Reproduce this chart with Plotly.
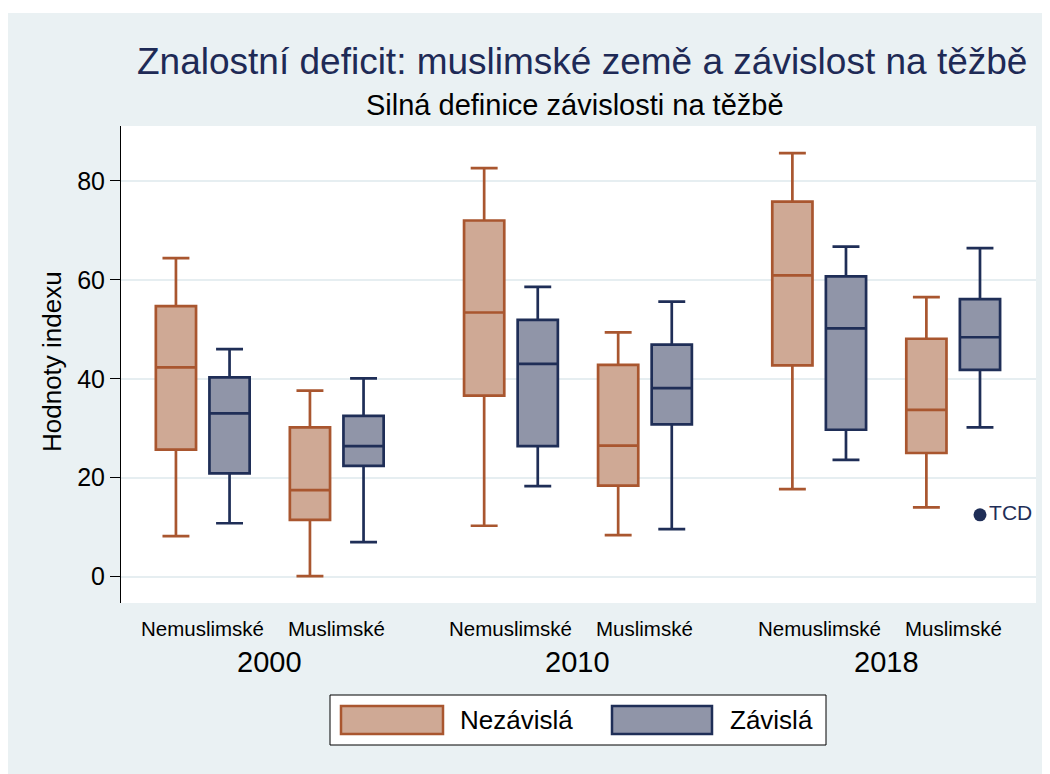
import plotly.graph_objects as go

# ---------------- data ----------------
years = ["2000", "2010", "2018"]
religion = ["Nemuslimské", "Muslimské"]
series = ["Nezávislá", "Závislá"]

# order: 2000 Nem, 2000 Mus, 2010 Nem, 2010 Mus, 2018 Nem, 2018 Mus
nez_lower = [8.2, 0.1, 10.3, 8.4, 17.7, 14.0]
nez_q1 = [25.7, 11.5, 36.6, 18.4, 42.7, 25.0]
nez_median = [42.3, 17.5, 53.4, 26.5, 60.9, 33.7]
nez_q3 = [54.7, 30.2, 72.0, 42.8, 75.8, 48.1]
nez_upper = [64.4, 37.6, 82.6, 49.4, 85.6, 56.5]

zav_lower = [10.8, 7.0, 18.3, 9.6, 23.6, 30.2]
zav_q1 = [20.9, 22.4, 26.4, 30.8, 29.7, 41.8]
zav_median = [33.0, 26.4, 43.0, 38.1, 50.2, 48.4]
zav_q3 = [40.3, 32.5, 51.9, 46.9, 60.7, 56.1]
zav_upper = [46.0, 40.1, 58.6, 55.6, 66.7, 66.4]

outlier_label = ["TCD"]
outlier_value = [12.5]
outlier_group = [5]  # 2018 Muslimské, Závislá

title = "Znalostní deficit: muslimské země a závislost na těžbě"
subtitle = "Silná definice závislosti na těžbě"
ytitle = "Hodnoty indexu"

# ---------------- layout constants ----------------
PAGE_OFF = 8  # browser body margin
W, H = 1050, 774
L, R, T, B = 121 - PAGE_OFF, 1036 - PAGE_OFF, 126 - PAGE_OFF, 603 - PAGE_OFF
GROUP_STEP, SUB_STEP, OFFSET, BOX_W = 2.3, 1.0, 0.2, 0.30
X_RANGE = [-0.61, 6.218]
Y_RANGE = [-5.32, 91.1]

NEZ_LINE, NEZ_FILL = "#A9562F", "#CFA995"
ZAV_LINE, ZAV_FILL = "#1F2E57", "#9095A8"
BG = "#EAF1F3"
FONT = "Liberation Sans, Arial, Helvetica, sans-serif"


def px_x(p):
    return (p - PAGE_OFF - L) / (R - L)


def px_y(p):
    return (B - (p - PAGE_OFF)) / (B - T)


centers = [g * GROUP_STEP + s * SUB_STEP for g in range(len(years)) for s in range(len(religion))]
nez_x = [c - OFFSET for c in centers]
zav_x = [c + OFFSET for c in centers]

fig = go.Figure()
fig.add_trace(go.Box(
    name=series[0], x=nez_x, q1=nez_q1, median=nez_median, q3=nez_q3,
    lowerfence=nez_lower, upperfence=nez_upper,
    width=BOX_W, whiskerwidth=0.67, boxpoints=False,
    fillcolor=NEZ_FILL, line=dict(color=NEZ_LINE, width=2.7),
    showlegend=False, hoverinfo="skip",
))
fig.add_trace(go.Box(
    name=series[1], x=zav_x, q1=zav_q1, median=zav_median, q3=zav_q3,
    lowerfence=zav_lower, upperfence=zav_upper,
    width=BOX_W, whiskerwidth=0.67, boxpoints=False,
    fillcolor=ZAV_FILL, line=dict(color=ZAV_LINE, width=2.7),
    showlegend=False, hoverinfo="skip",
))
fig.add_trace(go.Scatter(
    x=[zav_x[i] for i in outlier_group], y=outlier_value, mode="markers+text",
    text=outlier_label, textposition="middle right",
    textfont=dict(family=FONT, size=21, color=ZAV_LINE),
    marker=dict(size=13, color=ZAV_LINE),
    showlegend=False, hoverinfo="skip",
))

annotations = []
# titles
annotations.append(dict(text=title, x=px_x(581.5), y=px_y(61.5), xref="paper", yref="paper",
                        xanchor="center", yanchor="middle", showarrow=False,
                        font=dict(family=FONT, size=37, color="#1E2A56")))
annotations.append(dict(text=subtitle, x=px_x(575), y=px_y(105), xref="paper", yref="paper",
                        xanchor="center", yanchor="middle", showarrow=False,
                        font=dict(family=FONT, size=29, color="#000000")))
annotations.append(dict(text=ytitle, x=px_x(52), y=px_y(362), xref="paper", yref="paper",
                        xanchor="center", yanchor="middle", showarrow=False, textangle=-90,
                        font=dict(family=FONT, size=26, color="#000000")))
# category labels
for i, c in enumerate(centers):
    annotations.append(dict(text=religion[i % 2], x=c, y=px_y(628), xref="x", yref="paper",
                            xanchor="center", yanchor="middle", showarrow=False,
                            font=dict(family=FONT, size=20.5, color="#000000")))
for g, yr in enumerate(years):
    annotations.append(dict(text=yr, x=(centers[2 * g] + centers[2 * g + 1]) / 2, y=px_y(662),
                            xref="x", yref="paper", xanchor="center", yanchor="middle",
                            showarrow=False, font=dict(family=FONT, size=29, color="#000000")))
# legend texts
annotations.append(dict(text=series[0], x=px_x(458), y=px_y(720), xref="paper", yref="paper",
                        xanchor="left", yanchor="middle", showarrow=False,
                        font=dict(family=FONT, size=26, color="#000000")))
annotations.append(dict(text=series[1], x=px_x(728), y=px_y(720), xref="paper", yref="paper",
                        xanchor="left", yanchor="middle", showarrow=False,
                        font=dict(family=FONT, size=26, color="#000000")))

shapes = [
    # white strip above the gray graph region
    dict(type="rect", xref="paper", yref="paper", x0=px_x(0), x1=px_x(W + 20), y0=px_y(0), y1=px_y(13),
         fillcolor="white", line=dict(width=0), layer="below"),
    # legend box
    dict(type="rect", xref="paper", yref="paper", x0=px_x(330), x1=px_x(826), y0=px_y(695), y1=px_y(745),
         fillcolor="white", line=dict(color="#000000", width=1)),
    dict(type="rect", xref="paper", yref="paper", x0=px_x(341), x1=px_x(443), y0=px_y(706), y1=px_y(734),
         fillcolor=NEZ_FILL, line=dict(color=NEZ_LINE, width=2.5)),
    dict(type="rect", xref="paper", yref="paper", x0=px_x(612), x1=px_x(712), y0=px_y(706), y1=px_y(734),
         fillcolor=ZAV_FILL, line=dict(color=ZAV_LINE, width=2.5)),
]

fig.update_layout(
    width=W, height=H,
    margin=dict(l=L, r=W - R, t=T, b=H - B, pad=0),
    paper_bgcolor=BG, plot_bgcolor="white",
    boxmode="overlay", showlegend=False,
    font=dict(family=FONT, color="#000000"),
    annotations=annotations, shapes=shapes,
    xaxis=dict(range=X_RANGE, showgrid=False, zeroline=False, showticklabels=False,
               ticks="", showline=False, fixedrange=True),
    yaxis=dict(range=Y_RANGE, tickvals=[0, 20, 40, 60, 80], showgrid=True,
               gridcolor="#E6EEF1", gridwidth=2, zeroline=False,
               showline=True, linecolor="#000000", linewidth=1,
               ticks="outside", ticklen=10, tickcolor="#000000", tickwidth=1,
               tickfont=dict(family=FONT, size=25, color="#000000"), fixedrange=True),
)

fig.write_html("out.html")
